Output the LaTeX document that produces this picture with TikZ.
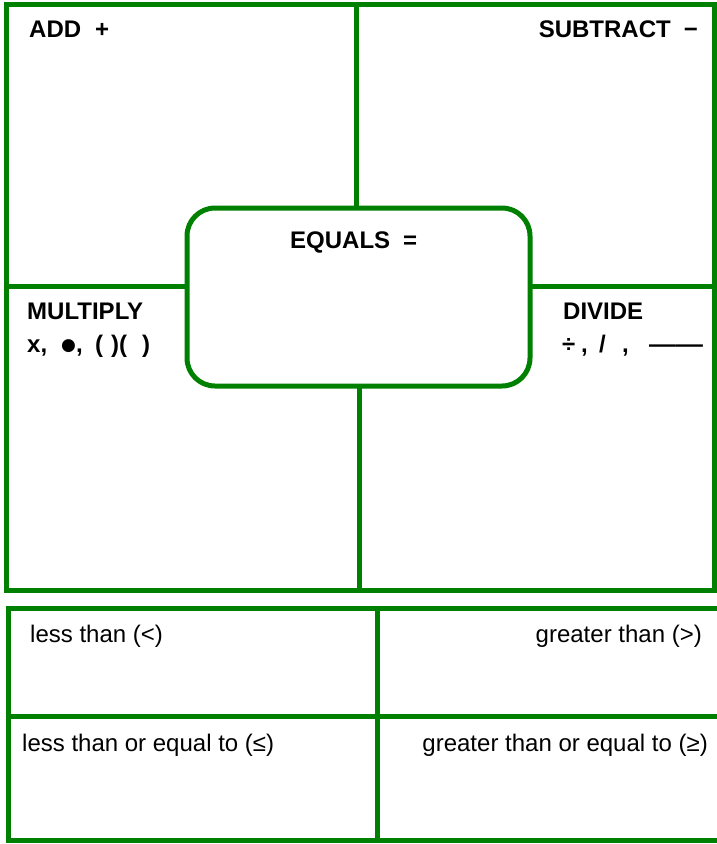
\documentclass[tikz,border=0pt]{standalone}
\usepackage{fontspec}
\setmainfont{Liberation Sans}
\newfontfamily\symfont{DejaVu Sans}
\definecolor{frame}{RGB}{0,128,0}
\begin{document}
\begin{tikzpicture}[x=1pt,y=-1pt,
  gline/.style={draw=frame,line width=5pt},
  bold/.style={font=\fontsize{24}{28}\selectfont\bfseries,inner sep=0pt},
  plain/.style={font=\fontsize{24}{28}\selectfont,inner sep=0pt}]
\useasboundingbox (0,0) rectangle (717,844);
% top frame
\coordinate (tl) at (6,4.5);
\coordinate (br) at (714.5,590);
\draw[gline] (tl) rectangle (br);
\draw[gline,rounded corners=28pt] (187,208) rectangle (530,386);
\coordinate (eqT) at (356,208);
\coordinate (eqB) at (359.5,386);
\coordinate (eqL) at (187,286);
\coordinate (eqR) at (530,286);
\draw[gline] (eqT) -- (356,4.5);
\draw[gline] (eqB) -- (359.5,590);
\draw[gline] (eqL) -- (6,286);
\draw[gline] (eqR) -- (714.5,286);
% bottom frame
\coordinate (b1) at (717,608.5);
\coordinate (b2) at (8,608.5);
\coordinate (b3) at (8,840);
\coordinate (b4) at (717,840);
\draw[gline] (b1) -- (b2) -- (b3) -- (b4);
\draw[gline] (8,716) -- (717,716);
\draw[gline] (377,608.5) -- (377,840);
% labels
\node[bold,anchor=base west] (add) at (29,37) {ADD\hspace{14pt}+};
\node[bold,anchor=base east] (sub) at (698,37) {SUBTRACT\hspace{13pt}\char"2212};
\node[bold,anchor=base west] (eq) at (290,248) {EQUALS\hspace{13pt}=};
\node[bold,anchor=base west] (mul) at (27,319) {MULTIPLY};
\node[bold,anchor=base west] (mx) at (27,352) {x,};
\node[bold,anchor=base west] (mdot) at (61,352) {{\symfont\fontsize{17}{20}\selectfont\raisebox{2pt}{●}},};
\node[bold,anchor=base west] (mp1) at (95,352) {(};
\node[bold,anchor=base west] (mp2) at (111,352) {)(};
\node[bold,anchor=base west] (mp3) at (142,352) {)};
\node[bold,anchor=base west] (div) at (563,319) {DIVIDE};
\node[bold,anchor=base west] (dsym) at (562,352) {÷};
\node[bold,anchor=base west] (dc1) at (581,352) {,};
\node[bold,anchor=base west] (dsl) at (599,352) {/};
\node[bold,anchor=base west] (dc2) at (622,352) {,};
\node[bold,anchor=base west] (dln) at (649,352) {\scalebox{1.12}[1]{——}};
\node[plain,anchor=base west] (lt) at (30,642) {less than (<)};
\node[plain,anchor=base east] (gt) at (702,642) {greater than (>)};
\node[plain,anchor=base west] (le) at (22,751) {less than or equal to (≤)};
\node[plain,anchor=base east] (ge) at (708,751) {greater than or equal to (≥)};
\end{tikzpicture}
\end{document}
